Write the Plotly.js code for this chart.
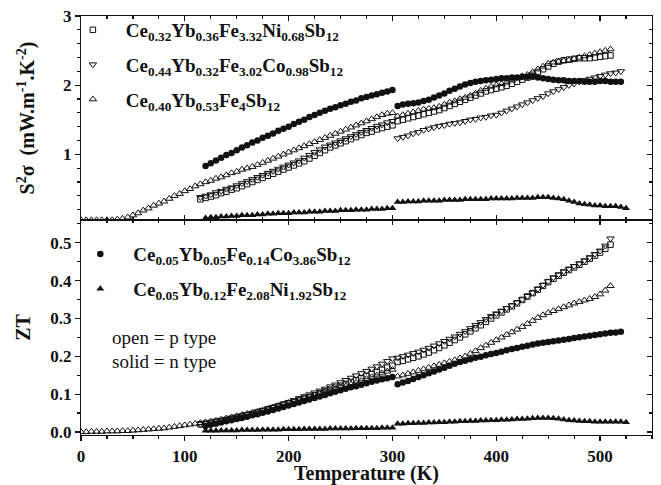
<!DOCTYPE html>
<html>
<head>
<meta charset="utf-8">
<script src="https://cdn.plot.ly/plotly-3.0.1.min.js"></script>
<style>html,body{margin:0;padding:0;background:#fff;}#chart{width:661px;height:485px;}</style>
</head>
<body>
<div id="chart"></div>
<script>
// ---- Series names ----
const nameA = "Ce<sub>0.32</sub>Yb<sub>0.36</sub>Fe<sub>3.32</sub>Ni<sub>0.68</sub>Sb<sub>12</sub>";
const nameB = "Ce<sub>0.44</sub>Yb<sub>0.32</sub>Fe<sub>3.02</sub>Co<sub>0.98</sub>Sb<sub>12</sub>";
const nameC = "Ce<sub>0.40</sub>Yb<sub>0.53</sub>Fe<sub>4</sub>Sb<sub>12</sub>";
const nameD = "Ce<sub>0.05</sub>Yb<sub>0.05</sub>Fe<sub>0.14</sub>Co<sub>3.86</sub>Sb<sub>12</sub>";
const nameE = "Ce<sub>0.05</sub>Yb<sub>0.12</sub>Fe<sub>2.08</sub>Ni<sub>1.92</sub>Sb<sub>12</sub>";

// ---- Series A (open square, p type) ----
const T_A = [115,120,125,130,135,140,145,150,155,160,165,170,175,180,185,190,195,200,205,210,215,220,225,230,235,240,245,250,255,260,265,270,275,280,285,290,295,300,
  305,310,315,320,325,330,335,340,345,350,355,360,365,370,375,380,385,390,395,400,405,410,415,420,425,430,435,440,445,450,455,460,465,470,475,480,485,490,495,500,505,510];
const S2_A = [0.35,0.37,0.39,0.41,0.44,0.46,0.49,0.51,0.54,0.57,0.60,0.63,0.66,0.69,0.72,0.75,0.78,0.81,0.84,0.87,0.90,0.94,0.98,1.02,1.06,1.10,1.13,1.16,1.19,1.22,1.25,1.28,1.31,1.33,1.36,1.38,1.40,1.42,
  1.48,1.50,1.52,1.54,1.56,1.58,1.60,1.62,1.64,1.67,1.70,1.73,1.76,1.79,1.82,1.85,1.88,1.91,1.93,1.95,1.97,1.99,2.02,2.05,2.08,2.11,2.15,2.19,2.23,2.27,2.31,2.34,2.36,2.37,2.38,2.39,2.39,2.39,2.40,2.41,2.42,2.43];
const ZT_A = [0.020,0.022,0.024,0.027,0.029,0.032,0.035,0.038,0.041,0.044,0.047,0.051,0.055,0.059,0.063,0.067,0.071,0.075,0.079,0.083,0.088,0.092,0.097,0.102,0.107,0.112,0.117,0.122,0.127,0.132,0.137,0.142,0.148,0.153,0.158,0.164,0.170,0.175,
  0.185,0.188,0.192,0.196,0.200,0.205,0.210,0.216,0.222,0.229,0.236,0.243,0.250,0.258,0.266,0.274,0.282,0.291,0.300,0.308,0.316,0.324,0.332,0.340,0.349,0.358,0.367,0.376,0.386,0.396,0.405,0.413,0.421,0.428,0.435,0.442,0.450,0.458,0.466,0.474,0.484,0.495];

// ---- Series B (open down-triangle, p type) ----
const T_B = [115,120,125,130,135,140,145,150,155,160,165,170,175,180,185,190,195,200,205,210,215,220,225,230,235,240,245,250,255,260,265,270,275,280,285,290,295,300,
  305,310,315,320,325,330,335,340,345,350,355,360,365,370,375,380,385,390,395,400,405,410,415,420,425,430,435,440,445,450,455,460,465,470,475,480,485,490,495,500,505,510,515,520];
const S2_B = [0.38,0.40,0.42,0.45,0.47,0.50,0.52,0.55,0.58,0.61,0.64,0.67,0.70,0.73,0.76,0.79,0.82,0.85,0.88,0.91,0.95,0.99,1.03,1.07,1.11,1.14,1.17,1.20,1.23,1.26,1.29,1.32,1.35,1.38,1.41,1.43,1.46,1.48,
  1.23,1.25,1.27,1.30,1.32,1.35,1.37,1.39,1.41,1.42,1.44,1.45,1.46,1.48,1.50,1.51,1.53,1.54,1.56,1.57,1.60,1.63,1.66,1.69,1.72,1.75,1.78,1.81,1.84,1.88,1.91,1.94,1.97,2.00,2.02,2.05,2.07,2.09,2.11,2.13,2.15,2.17,2.18,2.20];
const ZT_B = [0.021,0.023,0.025,0.028,0.031,0.034,0.037,0.040,0.043,0.047,0.050,0.054,0.058,0.062,0.066,0.070,0.075,0.079,0.084,0.089,0.094,0.099,0.104,0.109,0.114,0.120,0.125,0.131,0.137,0.143,0.149,0.155,0.161,0.167,0.173,0.180,0.187,0.194,
  0.196,0.200,0.204,0.208,0.212,0.217,0.222,0.228,0.234,0.240,0.246,0.252,0.259,0.266,0.274,0.282,0.290,0.298,0.306,0.313,0.320,0.327,0.334,0.342,0.350,0.359,0.368,0.378,0.388,0.398,0.408,0.416,0.424,0.431,0.438,0.445,0.453,0.461,0.470,0.479,0.492,0.511,null,null];

// ---- Series C (open up-triangle, p type) ----
const T_C = [0,5,10,15,20,25,30,35,40,45,50,55,60,65,70,75,80,85,90,95,100,105,110,115,120,125,130,135,140,145,150,155,160,165,170,175,180,185,190,195,200,205,210,215,220,225,230,235,240,245,250,255,260,265,270,275,280,285,290,295,300,
  305,310,315,320,325,330,335,340,345,350,355,360,365,370,375,380,385,390,395,400,405,410,415,420,425,430,435,440,445,450,455,460,465,470,475,480,485,490,495,500,505,510];
const S2_C = [0.05,0.05,0.05,0.05,0.05,0.05,0.05,0.06,0.07,0.09,0.12,0.15,0.19,0.22,0.26,0.29,0.32,0.36,0.40,0.43,0.47,0.50,0.54,0.57,0.60,0.62,0.65,0.67,0.70,0.73,0.75,0.78,0.80,0.82,0.85,0.88,0.91,0.94,0.97,1.00,1.03,1.06,1.09,1.12,1.15,1.18,1.21,1.24,1.27,1.30,1.33,1.36,1.39,1.42,1.45,1.48,1.51,1.54,1.57,1.59,1.60,
  1.55,1.57,1.59,1.61,1.63,1.65,1.66,1.67,1.69,1.72,1.75,1.77,1.80,1.82,1.85,1.88,1.92,1.95,1.98,2.00,2.02,2.04,2.07,2.10,2.13,2.15,2.19,2.23,2.27,2.31,2.33,2.34,2.35,2.36,2.38,2.40,2.42,2.44,2.46,2.48,2.50,2.52];
const ZT_C = [0.000,0.000,0.001,0.001,0.001,0.002,0.002,0.002,0.003,0.003,0.004,0.005,0.006,0.007,0.008,0.009,0.010,0.012,0.014,0.016,0.018,0.020,0.022,0.024,0.026,0.028,0.030,0.033,0.036,0.039,0.042,0.045,0.048,0.051,0.054,0.057,0.061,0.065,0.069,0.073,0.077,0.081,0.085,0.089,0.093,0.097,0.101,0.105,0.109,0.113,0.117,0.121,0.126,0.130,0.135,0.140,0.145,0.150,0.155,0.160,0.165,
  0.147,0.150,0.154,0.158,0.162,0.166,0.170,0.174,0.178,0.182,0.186,0.190,0.195,0.200,0.207,0.214,0.222,0.229,0.236,0.243,0.250,0.257,0.264,0.271,0.278,0.286,0.294,0.302,0.309,0.315,0.320,0.325,0.330,0.335,0.340,0.344,0.348,0.352,0.357,0.364,0.374,0.386];

// ---- Series D (solid circle, n type) ----
const T_D = [120,125,130,135,140,145,150,155,160,165,170,175,180,185,190,195,200,205,210,215,220,225,230,235,240,245,250,255,260,265,270,275,280,285,290,295,300,
  305,310,315,320,325,330,335,340,345,350,355,360,365,370,375,380,385,390,395,400,405,410,415,420,425,430,435,440,445,450,455,460,465,470,475,480,485,490,495,500,505,510,515,520];
const S2_D = [0.83,0.87,0.91,0.95,0.99,1.02,1.06,1.10,1.13,1.17,1.20,1.24,1.27,1.30,1.34,1.37,1.40,1.44,1.47,1.50,1.54,1.57,1.60,1.63,1.66,1.68,1.71,1.73,1.76,1.78,1.81,1.83,1.85,1.87,1.89,1.91,1.93,
  1.70,1.72,1.73,1.74,1.75,1.77,1.79,1.82,1.85,1.88,1.92,1.95,1.98,2.01,2.03,2.05,2.06,2.07,2.08,2.09,2.10,2.10,2.11,2.11,2.12,2.12,2.12,2.11,2.10,2.09,2.08,2.07,2.07,2.06,2.06,2.06,2.05,2.05,2.05,2.06,2.06,2.05,2.05,2.05];
const ZT_D = [0.016,0.019,0.022,0.025,0.028,0.031,0.034,0.037,0.040,0.044,0.047,0.051,0.054,0.058,0.062,0.066,0.070,0.074,0.078,0.082,0.086,0.090,0.094,0.098,0.102,0.106,0.110,0.114,0.118,0.121,0.125,0.129,0.133,0.136,0.139,0.142,0.145,
  0.126,0.131,0.135,0.140,0.145,0.150,0.155,0.160,0.165,0.170,0.175,0.180,0.185,0.188,0.192,0.196,0.199,0.203,0.206,0.209,0.212,0.216,0.219,0.222,0.225,0.228,0.231,0.234,0.236,0.238,0.240,0.242,0.244,0.246,0.248,0.250,0.252,0.254,0.256,0.258,0.260,0.262,0.263,0.265];

// ---- Series E (solid up-triangle, n type) ----
const T_E = [120,125,130,135,140,145,150,155,160,165,170,175,180,185,190,195,200,205,210,215,220,225,230,235,240,245,250,255,260,265,270,275,280,285,290,295,300,
  305,310,315,320,325,330,335,340,345,350,355,360,365,370,375,380,385,390,395,400,405,410,415,420,425,430,435,440,445,450,455,460,465,470,475,480,485,490,495,500,505,510,515,520,525];
const S2_E = [0.08,0.09,0.09,0.10,0.10,0.11,0.11,0.12,0.12,0.12,0.13,0.13,0.14,0.14,0.15,0.15,0.15,0.16,0.16,0.16,0.17,0.17,0.17,0.18,0.18,0.18,0.19,0.19,0.19,0.20,0.20,0.20,0.21,0.21,0.21,0.22,0.22,
  0.31,0.31,0.32,0.32,0.32,0.33,0.33,0.33,0.33,0.34,0.34,0.34,0.34,0.35,0.35,0.35,0.35,0.35,0.36,0.36,0.36,0.36,0.36,0.37,0.37,0.37,0.37,0.38,0.38,0.38,0.37,0.36,0.35,0.33,0.31,0.29,0.28,0.27,0.26,0.26,0.25,0.25,0.25,0.24,0.22];
const ZT_E = [0.003,0.003,0.003,0.004,0.004,0.004,0.004,0.005,0.005,0.005,0.005,0.006,0.006,0.006,0.006,0.007,0.007,0.007,0.007,0.008,0.008,0.008,0.008,0.008,0.009,0.009,0.009,0.009,0.009,0.010,0.010,0.010,0.010,0.010,0.011,0.011,0.011,
  0.022,0.022,0.023,0.023,0.024,0.024,0.025,0.025,0.026,0.026,0.027,0.027,0.028,0.028,0.029,0.029,0.030,0.030,0.031,0.031,0.032,0.032,0.033,0.034,0.034,0.035,0.036,0.037,0.037,0.037,0.036,0.035,0.033,0.031,0.030,0.029,0.028,0.028,0.027,0.027,0.027,0.027,0.027,0.027,0.026];

// ---- Axis / label text ----
const xTitle = "Temperature (K)";
const yTopTitle = "S<sup>2</sup>σ  (mW.m<sup>-1</sup>.K<sup>-2</sup>)";
const yBotTitle = "ZT";
const noteLines = ["open = p type", "solid = n type"];

const FONT = "Liberation Serif, Times New Roman, serif";
const BLACK = "#111";

function openMk(sym, size) {
  return {symbol: sym, size: size, color: BLACK, line: {color: BLACK, width: 1}};
}
function solidMk(sym, size) {
  return {symbol: sym, size: size, color: BLACK, line: {color: BLACK, width: 0}};
}

const mA = openMk("square-open", 5.5);
const mB = openMk("triangle-down-open", 6.5);
const mC = openMk("triangle-up-open", 6.5);
const mD = solidMk("circle", 6.5);
const mE = solidMk("triangle-up", 7);

const traces = [
  // top panel (S^2 sigma)
  {x: T_D, y: S2_D, xaxis: "x2", yaxis: "y2", mode: "markers", marker: mD, name: nameD, showlegend: false},
  {x: T_E, y: S2_E, xaxis: "x2", yaxis: "y2", mode: "markers", marker: mE, name: nameE, showlegend: false},
  {x: T_C, y: S2_C, xaxis: "x2", yaxis: "y2", mode: "markers", marker: mC, name: nameC, showlegend: false},
  {x: T_B, y: S2_B, xaxis: "x2", yaxis: "y2", mode: "markers", marker: mB, name: nameB, showlegend: false},
  {x: T_A, y: S2_A, xaxis: "x2", yaxis: "y2", mode: "markers", marker: mA, name: nameA, showlegend: false},
  // bottom panel (ZT)
  {x: T_D, y: ZT_D, xaxis: "x", yaxis: "y", mode: "markers", marker: mD, name: nameD, showlegend: false},
  {x: T_E, y: ZT_E, xaxis: "x", yaxis: "y", mode: "markers", marker: mE, name: nameE, showlegend: false},
  {x: T_C, y: ZT_C, xaxis: "x", yaxis: "y", mode: "markers", marker: mC, name: nameC, showlegend: false},
  {x: T_B, y: ZT_B, xaxis: "x", yaxis: "y", mode: "markers", marker: mB, name: nameB, showlegend: false},
  {x: T_A, y: ZT_A, xaxis: "x", yaxis: "y", mode: "markers", marker: mA, name: nameA, showlegend: false},
  // legend entries
  {x: [null], y: [null], xaxis: "x2", yaxis: "y2", mode: "markers", marker: mA, name: nameA, legend: "legend", legendgroup: "a"},
  {x: [null], y: [null], xaxis: "x2", yaxis: "y2", mode: "markers", marker: mB, name: nameB, legend: "legend", legendgroup: "b"},
  {x: [null], y: [null], xaxis: "x2", yaxis: "y2", mode: "markers", marker: mC, name: nameC, legend: "legend", legendgroup: "c"},
  {x: [null], y: [null], xaxis: "x", yaxis: "y", mode: "markers", marker: mD, name: nameD, legend: "legend2", legendgroup: "d"},
  {x: [null], y: [null], xaxis: "x", yaxis: "y", mode: "markers", marker: mE, name: nameE, legend: "legend2", legendgroup: "e"},
  // carriers for the mirrored inward tick axes
  {x: [null], y: [null], xaxis: "x3", yaxis: "y4", mode: "markers", showlegend: false, hoverinfo: "skip"},
  {x: [null], y: [null], xaxis: "x2", yaxis: "y3", mode: "markers", showlegend: false, hoverinfo: "skip"}
];

const tickFont = {family: FONT, size: 17, color: BLACK, weight: "bold"};
const titleFont = {family: FONT, size: 20, color: BLACK, weight: "bold"};
const legFont = {family: FONT, size: 19, color: BLACK, weight: "bold"};
const XR = [0, 550];
const YB = [-0.008, 0.56];
const YT = [0.05, 3];
const split = 0.513;

const axLine = {showline: true, linecolor: BLACK, linewidth: 1.2, showgrid: false, zeroline: false, tickcolor: BLACK, tickwidth: 1.2};

const layout = {
  width: 661, height: 485,
  margin: {l: 81, r: 9, t: 16, b: 50},
  paper_bgcolor: "#fff", plot_bgcolor: "#fff",
  font: {family: FONT, color: BLACK},
  showlegend: true,
  xaxis: Object.assign({}, axLine, {
    domain: [0, 1], anchor: "y", range: XR, dtick: 100, tick0: 0,
    ticks: "outside", ticklen: 5, mirror: true,
    minor: {dtick: 25, ticks: "outside", ticklen: 3, tickcolor: BLACK},
    tickfont: tickFont,
    title: {text: xTitle, font: titleFont, standoff: 6}
  }),
  xaxis3: Object.assign({}, axLine, {
    overlaying: "x", anchor: "y4", side: "top", range: XR, dtick: 100, tick0: 0,
    ticks: "inside", ticklen: 5, showticklabels: false,
    minor: {dtick: 25, ticks: "inside", ticklen: 3, tickcolor: BLACK}
  }),
  yaxis: Object.assign({}, axLine, {
    domain: [0, split], anchor: "x", range: YB, dtick: 0.1, tick0: 0, tickformat: ".1f",
    ticks: "outside", ticklen: 5, mirror: true,
    minor: {dtick: 0.05, ticks: "outside", ticklen: 3, tickcolor: BLACK},
    tickfont: tickFont,
    title: {text: yBotTitle, font: titleFont, standoff: 14}
  }),
  yaxis4: Object.assign({}, axLine, {
    overlaying: "y", anchor: "x3", side: "right", range: YB, dtick: 0.1, tick0: 0,
    ticks: "inside", ticklen: 5, showticklabels: false,
    minor: {dtick: 0.05, ticks: "inside", ticklen: 3, tickcolor: BLACK}
  }),
  xaxis2: Object.assign({}, axLine, {
    domain: [0, 1], anchor: "y2", range: XR, dtick: 100, tick0: 0,
    ticks: "inside", ticklen: 5, mirror: "ticks", showticklabels: false,
    minor: {dtick: 25, ticks: "inside", ticklen: 3, tickcolor: BLACK}
  }),
  yaxis2: Object.assign({}, axLine, {
    domain: [split, 1], anchor: "x2", range: YT, dtick: 1, tick0: 0,
    ticks: "outside", ticklen: 5, mirror: true,
    minor: {dtick: 0.2, ticks: "outside", ticklen: 3, tickcolor: BLACK},
    tickfont: tickFont,
    title: {text: yTopTitle, font: titleFont, standoff: 22}
  }),
  yaxis3: Object.assign({}, axLine, {
    overlaying: "y2", anchor: "x2", side: "right", range: YT, dtick: 1, tick0: 0,
    ticks: "inside", ticklen: 5, showticklabels: false,
    minor: {dtick: 0.2, ticks: "inside", ticklen: 3, tickcolor: BLACK}
  }),
  legend: {
    x: -0.037, y: 1.012, xanchor: "left", yanchor: "top",
    bgcolor: "rgba(0,0,0,0)", borderwidth: 0,
    font: legFont, tracegroupgap: 7, itemwidth: 56
  },
  legend2: {
    x: -0.024, y: 0.477, xanchor: "left", yanchor: "top",
    bgcolor: "rgba(0,0,0,0)", borderwidth: 0,
    font: legFont, tracegroupgap: 7, itemwidth: 56
  },
  annotations: [
    {xref: "paper", yref: "paper", x: 0.05, y: 0.232, xanchor: "left", yanchor: "middle", showarrow: false,
     text: noteLines[0], font: {family: FONT, size: 19, color: BLACK}},
    {xref: "paper", yref: "paper", x: 0.05, y: 0.175, xanchor: "left", yanchor: "middle", showarrow: false,
     text: noteLines[1], font: {family: FONT, size: 19, color: BLACK}}
  ]
};

Plotly.newPlot("chart", traces, layout, {displayModeBar: false, staticPlot: true});
</script>
</body>
</html>
